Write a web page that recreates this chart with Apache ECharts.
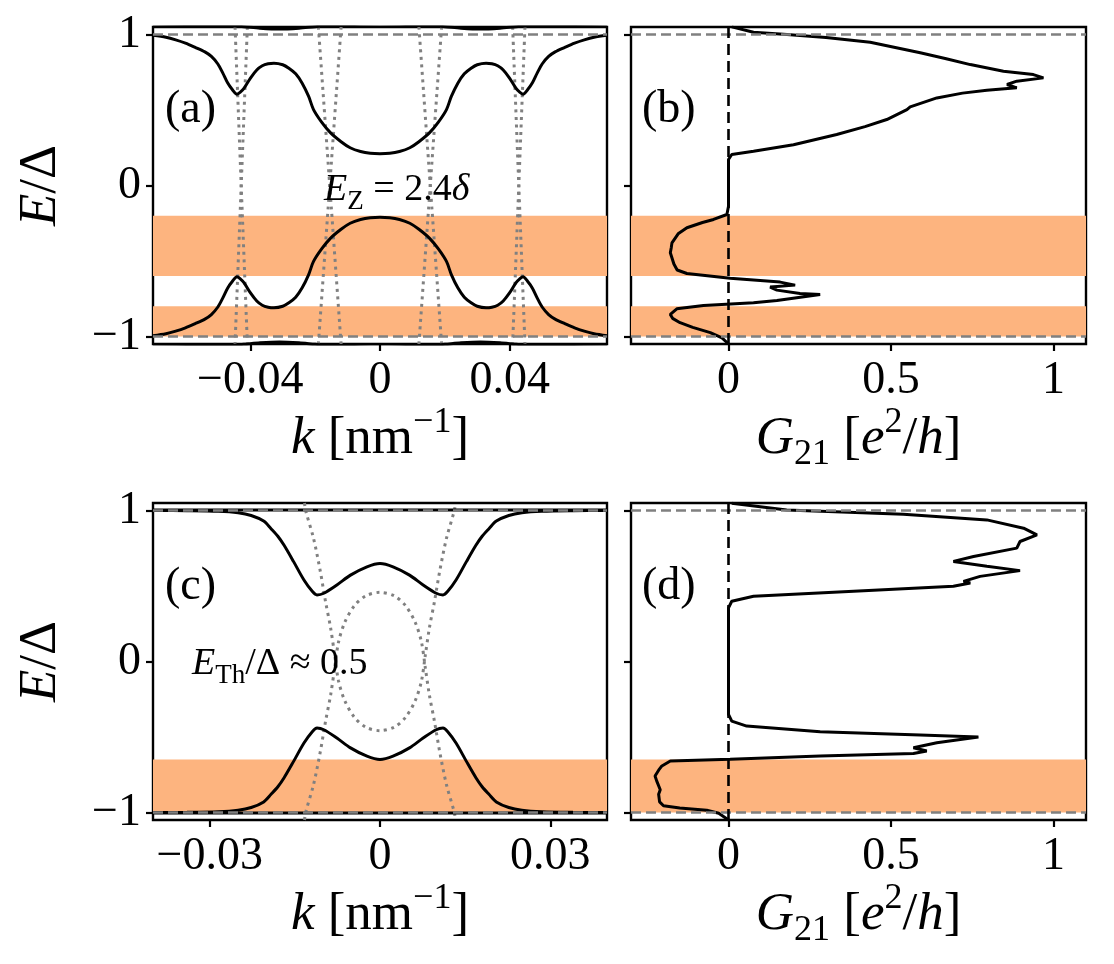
<!DOCTYPE html>
<html>
<head>
<meta charset="utf-8">
<script src="https://cdn.jsdelivr.net/npm/echarts@6/dist/echarts.min.js"></script>
<style>
html, body { margin: 0; padding: 0; background: #fff; }
#chart { width: 1114px; height: 964px; }
</style>
</head>
<body>
<div id="chart"></div>
<script>
// 刻度
var ticksE = [-1, 0, 1];
var ticksKA = [-0.04, 0, 0.04];
var ticksKC = [-0.03, 0, 0.03];
var ticksG = [0, 0.5, 1];

// 橙色区域 [E上, E下]
var bandsAB = [[-0.2, -0.6], [-0.8, -1.0]];
var bandsCD = [[-0.65, -1.0]];
var gapEdges = [1, -1];
var zeroG = [0];

// (a) 准粒子能带 [k, E]
var bandA_up = [
  [-0.0700, 0.995], [-0.0660, 0.982], [-0.0630, 0.965], [-0.0600, 0.943], [-0.0570, 0.915],
  [-0.0540, 0.885], [-0.0520, 0.855], [-0.0500, 0.805], [-0.0485, 0.746], [-0.0470, 0.680],
  [-0.0455, 0.634], [-0.0441, 0.605], [-0.0430, 0.620], [-0.0419, 0.645], [-0.0400, 0.710],
  [-0.0380, 0.765], [-0.0363, 0.793], [-0.0345, 0.806], [-0.0327, 0.810], [-0.0300, 0.800],
  [-0.0281, 0.777], [-0.0260, 0.740], [-0.0240, 0.678], [-0.0220, 0.590], [-0.0205, 0.503],
  [-0.0180, 0.420], [-0.0153, 0.350], [-0.0120, 0.290], [-0.0092, 0.250], [-0.0060, 0.225],
  [-0.0030, 0.213], [0.0000, 0.210], [0.0030, 0.213], [0.0060, 0.225], [0.0092, 0.250],
  [0.0120, 0.290], [0.0153, 0.350], [0.0180, 0.420], [0.0205, 0.503], [0.0220, 0.590],
  [0.0240, 0.678], [0.0260, 0.740], [0.0281, 0.777], [0.0300, 0.800], [0.0327, 0.810],
  [0.0345, 0.806], [0.0363, 0.793], [0.0380, 0.765], [0.0400, 0.710], [0.0419, 0.645],
  [0.0430, 0.620], [0.0441, 0.605], [0.0455, 0.634], [0.0470, 0.680], [0.0485, 0.746],
  [0.0500, 0.805], [0.0520, 0.855], [0.0540, 0.885], [0.0570, 0.915], [0.0600, 0.943],
  [0.0630, 0.965], [0.0660, 0.982], [0.0700, 0.995]
];
var bandA_dn = [
  [-0.0700, -0.995], [-0.0660, -0.982], [-0.0630, -0.965], [-0.0600, -0.943], [-0.0570, -0.915],
  [-0.0540, -0.885], [-0.0520, -0.855], [-0.0500, -0.805], [-0.0485, -0.746], [-0.0470, -0.680],
  [-0.0455, -0.634], [-0.0441, -0.605], [-0.0430, -0.620], [-0.0419, -0.645], [-0.0400, -0.710],
  [-0.0380, -0.765], [-0.0363, -0.793], [-0.0345, -0.806], [-0.0327, -0.810], [-0.0300, -0.800],
  [-0.0281, -0.777], [-0.0260, -0.740], [-0.0240, -0.678], [-0.0220, -0.590], [-0.0205, -0.503],
  [-0.0180, -0.420], [-0.0153, -0.350], [-0.0120, -0.290], [-0.0092, -0.250], [-0.0060, -0.225],
  [-0.0030, -0.213], [0.0000, -0.210], [0.0030, -0.213], [0.0060, -0.225], [0.0092, -0.250],
  [0.0120, -0.290], [0.0153, -0.350], [0.0180, -0.420], [0.0205, -0.503], [0.0220, -0.590],
  [0.0240, -0.678], [0.0260, -0.740], [0.0281, -0.777], [0.0300, -0.800], [0.0327, -0.810],
  [0.0345, -0.806], [0.0363, -0.793], [0.0380, -0.765], [0.0400, -0.710], [0.0419, -0.645],
  [0.0430, -0.620], [0.0441, -0.605], [0.0455, -0.634], [0.0470, -0.680], [0.0485, -0.746],
  [0.0500, -0.805], [0.0520, -0.855], [0.0540, -0.885], [0.0570, -0.915], [0.0600, -0.943],
  [0.0630, -0.965], [0.0660, -0.982], [0.0700, -0.995]
];
// 上下边缘露出的高能带
var edgeA_up = [
  [-0.070, 1.070], [-0.048, 1.062], [-0.042, 1.052], [-0.037, 1.042], [-0.031, 1.036],
  [-0.025, 1.042], [-0.020, 1.052], [-0.014, 1.062], [0.000, 1.070], [0.014, 1.062],
  [0.020, 1.052], [0.025, 1.042], [0.031, 1.036], [0.037, 1.042], [0.042, 1.052],
  [0.048, 1.062], [0.070, 1.070]
];
var edgeA_dn = [
  [-0.070, -1.070], [-0.048, -1.062], [-0.042, -1.052], [-0.037, -1.042], [-0.031, -1.036],
  [-0.025, -1.042], [-0.020, -1.052], [-0.014, -1.062], [0.000, -1.070], [0.014, -1.062],
  [0.020, -1.052], [0.025, -1.042], [0.031, -1.036], [0.037, -1.042], [0.042, -1.052],
  [0.048, -1.062], [0.070, -1.070]
];
// (a) 正常态色散 (点线)
var normalA = [
  [[-0.0447, 1.05], [-0.0428, 0], [-0.0409, -1.05]],
  [[-0.0409, 1.05], [-0.0428, 0], [-0.0447, -1.05]],
  [[-0.0190, 1.05], [-0.0155, 0], [-0.0120, -1.05]],
  [[-0.0120, 1.05], [-0.0155, 0], [-0.0190, -1.05]],
  [[0.0120, 1.05], [0.0155, 0], [0.0190, -1.05]],
  [[0.0190, 1.05], [0.0155, 0], [0.0120, -1.05]],
  [[0.0409, 1.05], [0.0428, 0], [0.0447, -1.05]],
  [[0.0447, 1.05], [0.0428, 0], [0.0409, -1.05]]
];

// (c) 准粒子能带
var bandC_up = [
  [-0.0400, 1.000], [-0.0340, 0.999], [-0.0285, 0.995], [-0.0250, 0.985], [-0.0227, 0.967],
  [-0.0205, 0.930], [-0.0192, 0.880], [-0.0180, 0.830], [-0.0169, 0.770], [-0.0152, 0.660],
  [-0.0134, 0.540], [-0.0119, 0.463], [-0.0111, 0.441], [-0.0099, 0.452], [-0.0076, 0.507],
  [-0.0052, 0.572], [-0.0023, 0.627], [0.0000, 0.649], [0.0023, 0.627], [0.0052, 0.572],
  [0.0076, 0.507], [0.0099, 0.452], [0.0111, 0.441], [0.0119, 0.463], [0.0134, 0.540],
  [0.0152, 0.660], [0.0169, 0.770], [0.0180, 0.830], [0.0192, 0.880], [0.0205, 0.930],
  [0.0227, 0.967], [0.0250, 0.985], [0.0285, 0.995], [0.0340, 0.999], [0.0400, 1.000]
];
var bandC_dn = [
  [-0.0400, -1.000], [-0.0340, -0.999], [-0.0285, -0.995], [-0.0250, -0.985], [-0.0227, -0.967],
  [-0.0205, -0.930], [-0.0192, -0.880], [-0.0180, -0.830], [-0.0169, -0.770], [-0.0152, -0.660],
  [-0.0134, -0.540], [-0.0119, -0.463], [-0.0111, -0.441], [-0.0099, -0.452], [-0.0076, -0.507],
  [-0.0052, -0.572], [-0.0023, -0.627], [0.0000, -0.649], [0.0023, -0.627], [0.0052, -0.572],
  [0.0076, -0.507], [0.0099, -0.452], [0.0111, -0.441], [0.0119, -0.463], [0.0134, -0.540],
  [0.0152, -0.660], [0.0169, -0.770], [0.0180, -0.830], [0.0192, -0.880], [0.0205, -0.930],
  [0.0227, -0.967], [0.0250, -0.985], [0.0285, -0.995], [0.0340, -0.999], [0.0400, -1.000]
];
var flatC_up = [[-0.04, 1.004], [0.04, 1.004]];
var flatC_dn = [[-0.04, -1.004], [0.04, -1.004]];
// (c) 正常态色散 (点线)
var normalC_e = [
  [-0.0133, 1.05], [-0.0131, 1.000], [-0.0117, 0.814], [-0.0105, 0.594], [-0.0096, 0.397],
  [-0.0087, 0.222], [-0.0080, 0.046], [-0.0073, -0.130], [-0.0062, -0.260], [-0.0045, -0.370],
  [-0.0025, -0.435], [0.0000, -0.458], [0.0025, -0.435], [0.0045, -0.370], [0.0062, -0.260],
  [0.0073, -0.130], [0.0080, 0.046], [0.0087, 0.222], [0.0096, 0.397], [0.0105, 0.594],
  [0.0117, 0.814], [0.0131, 1.000], [0.0133, 1.05]
];
var normalC_h = [
  [-0.0133, -1.05], [-0.0131, -1.000], [-0.0117, -0.814], [-0.0105, -0.594], [-0.0096, -0.397],
  [-0.0087, -0.222], [-0.0080, -0.046], [-0.0073, 0.130], [-0.0062, 0.260], [-0.0045, 0.370],
  [-0.0025, 0.435], [0.0000, 0.458], [0.0025, 0.435], [0.0045, 0.370], [0.0062, 0.260],
  [0.0073, 0.130], [0.0080, -0.046], [0.0087, -0.222], [0.0096, -0.397], [0.0105, -0.594],
  [0.0117, -0.814], [0.0131, -1.000], [0.0133, -1.05]
];

// (b) 非局域电导 [G21, E]
var condB = [
  [0.000, -1.050], [-0.020, -1.010], [-0.056, -0.975], [-0.110, -0.940], [-0.149, -0.909],
  [-0.172, -0.880], [-0.179, -0.854], [-0.159, -0.817], [-0.077, -0.795], [0.077, -0.777],
  [0.149, -0.762], [0.282, -0.722], [0.220, -0.715], [0.149, -0.693], [0.128, -0.673],
  [0.205, -0.660], [0.159, -0.640], [0.005, -0.614], [-0.128, -0.583], [-0.158, -0.560],
  [-0.168, -0.520], [-0.179, -0.446], [-0.176, -0.410], [-0.174, -0.380], [-0.155, -0.320],
  [-0.128, -0.280], [-0.080, -0.245], [-0.046, -0.225], [-0.005, -0.192], [0.000, -0.137],
  [0.000, 0.172], [0.010, 0.205], [0.077, 0.227], [0.200, 0.270], [0.333, 0.338],
  [0.420, 0.390], [0.487, 0.437], [0.549, 0.503], [0.559, 0.521], [0.641, 0.580],
  [0.720, 0.612], [0.795, 0.631], [0.887, 0.647], [0.857, 0.669], [0.887, 0.691],
  [0.969, 0.713], [0.938, 0.735], [0.846, 0.757], [0.744, 0.801], [0.670, 0.840],
  [0.590, 0.879], [0.436, 0.949], [0.300, 0.980], [0.180, 1.000], [0.077, 1.015], [0.010, 1.051]
];
// (d) 非局域电导
var condD = [
  [0.000, -1.050], [-0.030, -1.005], [-0.067, -0.985], [-0.150, -0.970], [-0.200, -0.956],
  [-0.212, -0.930], [-0.215, -0.879], [-0.210, -0.850], [-0.221, -0.791], [-0.226, -0.758],
  [-0.215, -0.720], [-0.205, -0.692], [-0.179, -0.659], [0.005, -0.648], [0.282, -0.626],
  [0.569, -0.610], [0.610, -0.593], [0.569, -0.571], [0.641, -0.538], [0.769, -0.500],
  [0.590, -0.487], [0.282, -0.465], [0.056, -0.428], [0.010, -0.395], [0.000, -0.350],
  [0.000, 0.355], [0.010, 0.399], [0.077, 0.432], [0.385, 0.465], [0.692, 0.498],
  [0.744, 0.520], [0.723, 0.531], [0.774, 0.564], [0.897, 0.602], [0.795, 0.631],
  [0.692, 0.663], [0.754, 0.696], [0.887, 0.751], [0.897, 0.795], [0.949, 0.839],
  [0.908, 0.883], [0.795, 0.938], [0.538, 0.976], [0.179, 1.004], [0.010, 1.048]
];

var F = 'Liberation Serif';
var ORANGE = '#FDB47F';
var GREY = '#808080';

function fmt(v) {
  return (v < 0 ? '\u2212' : '') + Math.abs(v);
}

function rich(big, small, lh) {
  return {
    it: { fontFamily: F, fontStyle: 'italic', fontSize: big, lineHeight: lh, color: '#000' },
    sup: { fontFamily: F, fontSize: small, lineHeight: small, verticalAlign: 'top', color: '#000' },
    sub: { fontFamily: F, fontSize: small, lineHeight: small, verticalAlign: 'bottom', color: '#000' }
  };
}

var nameStyle = {
  fontFamily: F, fontSize: 53, lineHeight: 68, color: '#000',
  rich: rich(53, 36, 68)
};

function xAxisOf(gi, min, max, ticks, name) {
  return {
    type: 'value', gridIndex: gi, min: min, max: max, position: 'bottom',
    axisLine: { show: false, onZero: false }, splitLine: { show: false },
    axisTick: { show: true, inside: false, length: 7, lineStyle: { color: '#000', width: 2.2 }, customValues: ticks },
    axisLabel: { customValues: ticks, formatter: fmt, margin: 14, color: '#000', fontFamily: F, fontSize: 46 },
    name: name, nameLocation: 'middle', nameGap: 58, nameTextStyle: nameStyle
  };
}

function yAxisOf(gi, showLabel) {
  return {
    type: 'value', gridIndex: gi, min: -1.05, max: 1.05, position: 'left',
    axisLine: { show: false, onZero: false }, splitLine: { show: false },
    axisTick: { show: true, inside: false, length: 7, lineStyle: { color: '#000', width: 2.2 }, customValues: ticksE },
    axisLabel: { show: showLabel, customValues: ticksE, formatter: fmt, margin: 12, color: '#000', fontFamily: F, fontSize: 46 },
    name: showLabel ? '{it|E}/\u0394' : '', nameLocation: 'middle', nameGap: 78, nameRotate: 90,
    nameTextStyle: nameStyle
  };
}

function curve(gi, data, opt) {
  opt = opt || {};
  return {
    type: 'line', xAxisIndex: gi, yAxisIndex: gi, data: data,
    showSymbol: false, symbol: 'none', silent: true,
    smooth: opt.smooth || false, z: opt.z || 3,
    lineStyle: { color: opt.color || '#000', width: opt.width || 3, type: opt.type || 'solid' }
  };
}

function bandArea(bands) {
  return {
    silent: true,
    itemStyle: { color: ORANGE, opacity: 1 },
    data: bands.map(function (b) { return [{ yAxis: b[0] }, { yAxis: b[1] }]; })
  };
}

function hLines(vals) {
  return {
    symbol: 'none', silent: true, label: { show: false },
    lineStyle: { color: GREY, type: [10, 5], width: 2.6 },
    data: vals.map(function (v) { return { yAxis: v }; })
  };
}

function vLines(vals) {
  return {
    symbol: 'none', silent: true, label: { show: false },
    lineStyle: { color: '#000', type: [11, 6], width: 2.6 },
    data: vals.map(function (v) { return { xAxis: v }; })
  };
}

var DOT = [3, 4.5];
var series = [];
// 背景: 橙色带 + 虚线
[0, 1].forEach(function (gi) {
  var s = curve(gi, [], { z: 1 });
  s.markArea = bandArea(bandsAB);
  series.push(s);
});
[2, 3].forEach(function (gi) {
  var s = curve(gi, [], { z: 1 });
  s.markArea = bandArea(bandsCD);
  series.push(s);
});
[0, 1, 2, 3].forEach(function (gi) {
  var s = curve(gi, [], { z: 6 });
  s.markLine = hLines(gapEdges);
  series.push(s);
});
[1, 3].forEach(function (gi) {
  var s = curve(gi, [], { z: 5 });
  s.markLine = vLines(zeroG);
  series.push(s);
});

// (a)
normalA.forEach(function (ln) {
  series.push(curve(0, ln, { color: GREY, type: DOT, width: 3, z: 2, smooth: 0.3 }));
});
series.push(curve(0, bandA_up, { smooth: 0.3 }));
series.push(curve(0, bandA_dn, { smooth: 0.3 }));
series.push(curve(0, edgeA_up, { smooth: 0.3 }));
series.push(curve(0, edgeA_dn, { smooth: 0.3 }));
// (b)
series.push(curve(1, condB));
// (c)
series.push(curve(2, normalC_e, { color: GREY, type: DOT, width: 3, z: 2, smooth: 0.3 }));
series.push(curve(2, normalC_h, { color: GREY, type: DOT, width: 3, z: 2, smooth: 0.3 }));
series.push(curve(2, bandC_up, { smooth: 0.3 }));
series.push(curve(2, bandC_dn, { smooth: 0.3 }));
series.push(curve(2, flatC_up));
series.push(curve(2, flatC_dn));
// (d)
series.push(curve(3, condD));

function label(x, y, text, size, sub) {
  return {
    type: 'text', x: x, y: y, z: 100, silent: true,
    style: {
      text: text, fontFamily: F, fontSize: size, lineHeight: size + 12,
      fill: '#000', align: 'left', verticalAlign: 'middle',
      rich: rich(size, sub, size + 12)
    }
  };
}

var gridStyle = { show: true, borderColor: '#000', borderWidth: 2.4, backgroundColor: 'transparent' };
function gridAt(left, top, width) {
  return Object.assign({ left: left, top: top, width: width, height: 317, containLabel: false }, gridStyle);
}

var option = {
  animation: false,
  backgroundColor: '#fff',
  grid: [gridAt(153, 27, 454), gridAt(631, 27, 455), gridAt(153, 503, 454), gridAt(631, 503, 455)],
  xAxis: [
    xAxisOf(0, -0.07, 0.07, ticksKA, '{it|k} [nm{sup|\u22121}]'),
    xAxisOf(1, -0.3, 1.1, ticksG, '{it|G}{sub|21} [{it|e}{sup|2}/{it|h}]'),
    xAxisOf(2, -0.04, 0.04, ticksKC, '{it|k} [nm{sup|\u22121}]'),
    xAxisOf(3, -0.3, 1.1, ticksG, '{it|G}{sub|21} [{it|e}{sup|2}/{it|h}]')
  ],
  yAxis: [yAxisOf(0, true), yAxisOf(1, false), yAxisOf(2, true), yAxisOf(3, false)],
  graphic: [
    label(165, 110, '(a)', 46, 30),
    label(642, 110, '(b)', 46, 30),
    label(165, 587, '(c)', 46, 30),
    label(642, 587, '(d)', 46, 30),
    label(324, 190, '{it|E}{sub|Z} = 2.4{it|\u03b4}', 38, 27),
    label(192, 664, '{it|E}{sub|Th}/\u0394 \u2248 0.5', 38, 27)
  ],
  series: series
};

var chart = echarts.init(document.getElementById('chart'), null, { renderer: 'canvas' });
chart.setOption(option);
</script>
</body>
</html>
